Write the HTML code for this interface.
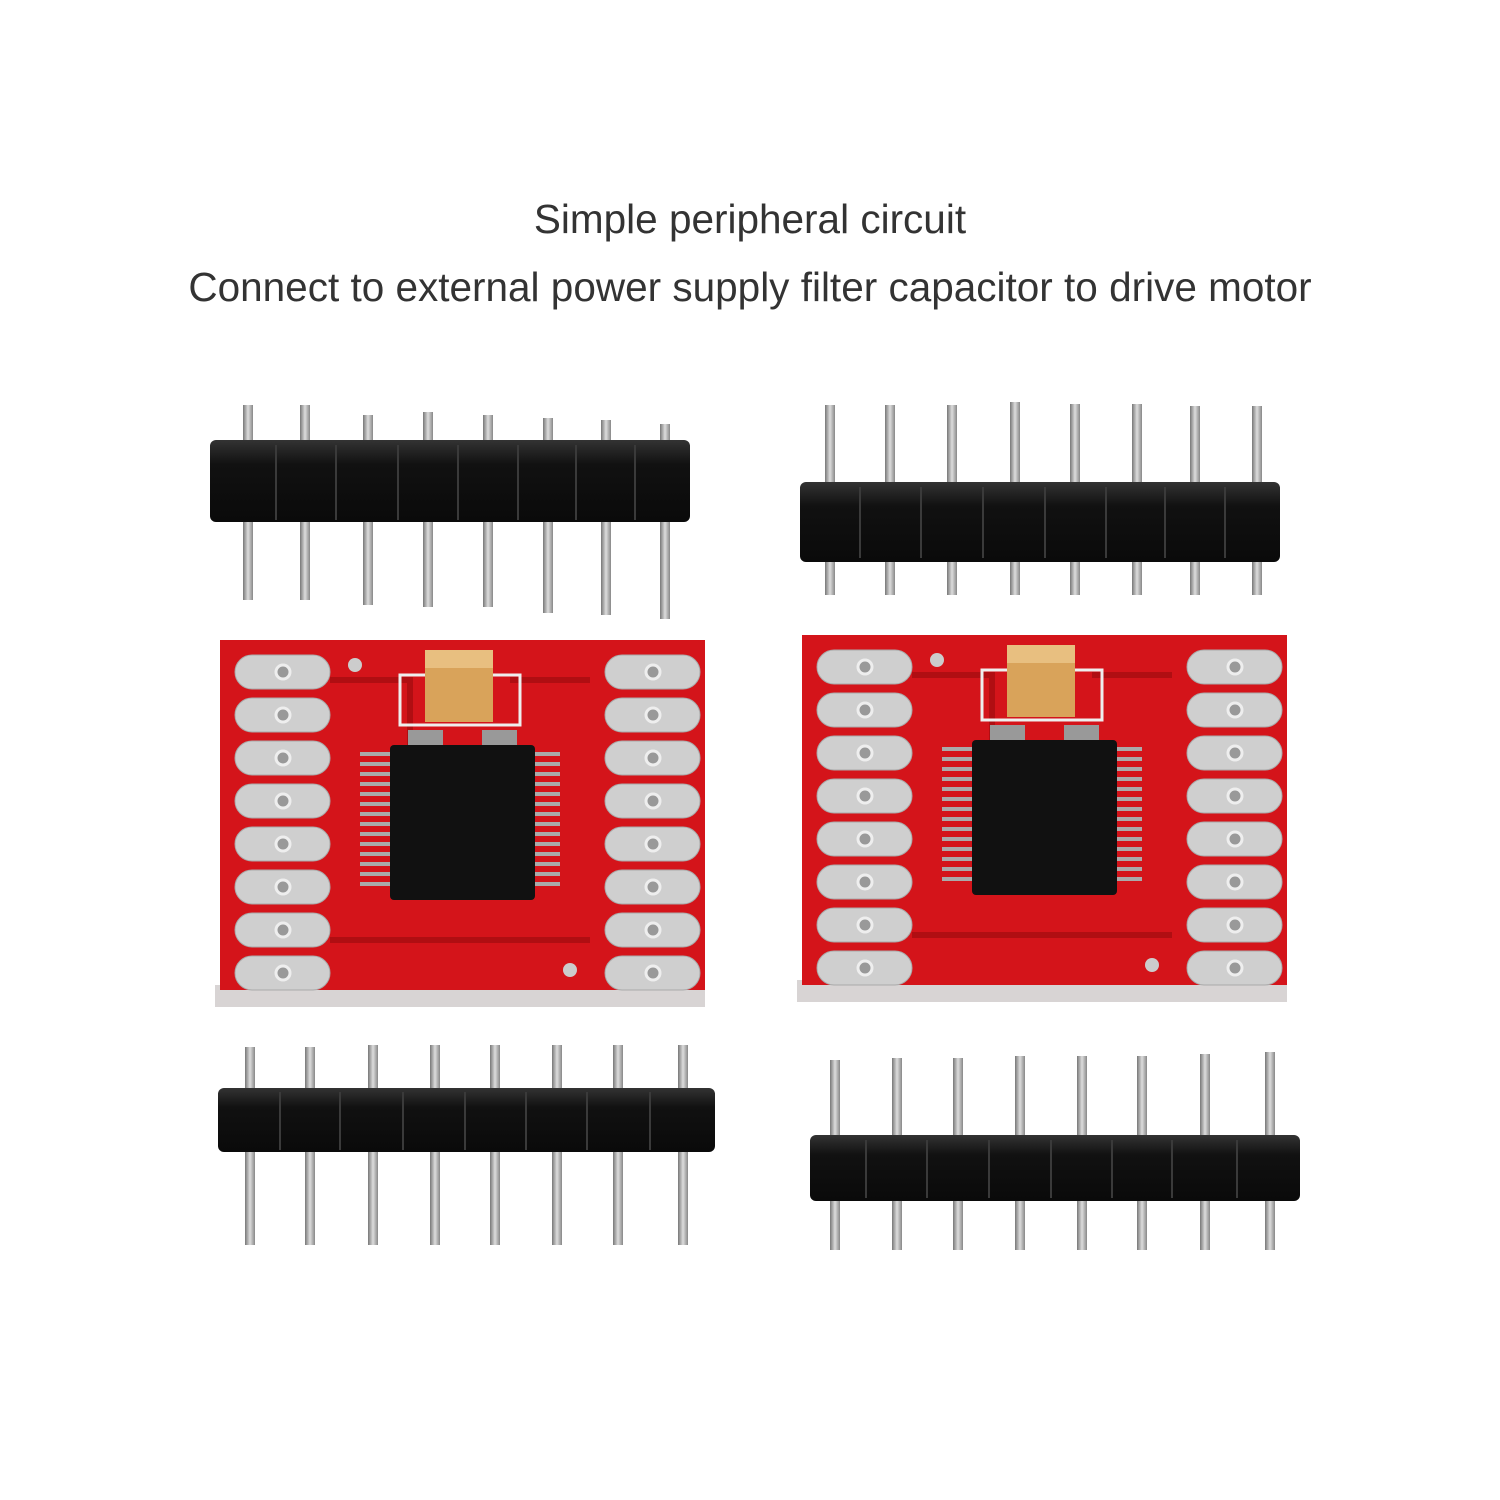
<!DOCTYPE html>
<html><head><meta charset="utf-8"><style>
html,body{margin:0;padding:0;background:#fff;}
body{width:1500px;height:1500px;position:relative;overflow:hidden;font-family:"Liberation Sans",sans-serif;}
.t{position:absolute;left:0;width:1500px;text-align:center;color:#333;font-size:40.5px;}
svg{position:absolute;left:0;top:0;}
</style></head><body>
<div class="t" style="top:196px;">Simple peripheral circuit</div>
<div class="t" style="top:264px;">Connect to external power supply filter capacitor to drive motor</div>
<svg width="1500" height="1500" viewBox="0 0 1500 1500">
<defs>
<linearGradient id="pin" x1="0" x2="1"><stop offset="0" stop-color="#777"/><stop offset="0.5" stop-color="#ddd"/><stop offset="1" stop-color="#888"/></linearGradient>
<linearGradient id="blk" x1="0" y1="0" x2="0" y2="1"><stop offset="0" stop-color="#333"/><stop offset="0.3" stop-color="#111"/><stop offset="1" stop-color="#0a0a0a"/></linearGradient>
<g id="pads">
  <g fill="#cfcfcf" stroke="#aaa" stroke-width="1">
  <rect x="0" y="0" width="95" height="34" rx="17"/><rect x="0" y="43" width="95" height="34" rx="17"/>
  <rect x="0" y="86" width="95" height="34" rx="17"/><rect x="0" y="129" width="95" height="34" rx="17"/>
  <rect x="0" y="172" width="95" height="34" rx="17"/><rect x="0" y="215" width="95" height="34" rx="17"/>
  <rect x="0" y="258" width="95" height="34" rx="17"/><rect x="0" y="301" width="95" height="34" rx="17"/>
  </g>
  <g fill="#999" stroke="#eee" stroke-width="3">
  <circle cx="48" cy="17" r="7"/><circle cx="48" cy="60" r="7"/><circle cx="48" cy="103" r="7"/><circle cx="48" cy="146" r="7"/>
  <circle cx="48" cy="189" r="7"/><circle cx="48" cy="232" r="7"/><circle cx="48" cy="275" r="7"/><circle cx="48" cy="318" r="7"/>
  </g>
</g>
<g id="board">
  <rect x="-5" y="345" width="490" height="22" fill="#d8d4d4"/>
  <rect x="0" y="0" width="485" height="350" fill="#d4141a"/>
  <path d="M110 40 L190 40 L190 110 M290 40 L370 40 M110 300 L370 300" stroke="#b00e12" stroke-width="6" fill="none"/>
  <use href="#pads" x="15" y="15"/>
  <use href="#pads" x="385" y="15"/>
  <circle cx="135" cy="25" r="7" fill="#ccc"/><circle cx="350" cy="330" r="7" fill="#ccc"/>
  <rect x="180" y="35" width="120" height="50" fill="none" stroke="#eee" stroke-width="3"/>
  <rect x="205" y="10" width="68" height="72" fill="#d9a35a"/>
  <rect x="205" y="10" width="68" height="18" fill="#e8bf80"/>
  <rect x="188" y="90" width="35" height="16" fill="#999"/><rect x="262" y="90" width="35" height="16" fill="#999"/>
  <g fill="#aaa">
   <rect x="140" y="112" width="200" height="4"/><rect x="140" y="122" width="200" height="4"/><rect x="140" y="132" width="200" height="4"/><rect x="140" y="142" width="200" height="4"/>
   <rect x="140" y="152" width="200" height="4"/><rect x="140" y="162" width="200" height="4"/><rect x="140" y="172" width="200" height="4"/><rect x="140" y="182" width="200" height="4"/>
   <rect x="140" y="192" width="200" height="4"/><rect x="140" y="202" width="200" height="4"/><rect x="140" y="212" width="200" height="4"/><rect x="140" y="222" width="200" height="4"/>
   <rect x="140" y="232" width="200" height="4"/><rect x="140" y="242" width="200" height="4"/>
  </g>
  <rect x="170" y="105" width="145" height="155" rx="4" fill="#111"/>
</g>
</defs>
<g>
 <g fill="url(#pin)">
  <rect x="243" y="405" width="10" height="195"/><rect x="300" y="405" width="10" height="195"/><rect x="363" y="415" width="10" height="190"/><rect x="423" y="412" width="10" height="195"/>
  <rect x="483" y="415" width="10" height="192"/><rect x="543" y="418" width="10" height="195"/><rect x="601" y="420" width="10" height="195"/><rect x="660" y="424" width="10" height="195"/>
 </g>
 <rect x="210" y="440" width="480" height="82" rx="6" fill="url(#blk)"/>
 <g stroke="#3a3a3a" stroke-width="2"><path d="M276 445V520M336 445V520M398 445V520M458 445V520M518 445V520M576 445V520M635 445V520"/></g>
</g>
<g>
 <g fill="url(#pin)">
  <rect x="825" y="405" width="10" height="190"/><rect x="885" y="405" width="10" height="190"/><rect x="947" y="405" width="10" height="190"/><rect x="1010" y="402" width="10" height="193"/>
  <rect x="1070" y="404" width="10" height="191"/><rect x="1132" y="404" width="10" height="191"/><rect x="1190" y="406" width="10" height="189"/><rect x="1252" y="406" width="10" height="189"/>
 </g>
 <rect x="800" y="482" width="480" height="80" rx="6" fill="url(#blk)"/>
 <g stroke="#3a3a3a" stroke-width="2"><path d="M860 487V558M921 487V558M983 487V558M1045 487V558M1106 487V558M1165 487V558M1225 487V558"/></g>
</g>
<g>
 <g fill="url(#pin)">
  <rect x="245" y="1047" width="10" height="198"/><rect x="305" y="1047" width="10" height="198"/><rect x="368" y="1045" width="10" height="200"/><rect x="430" y="1045" width="10" height="200"/>
  <rect x="490" y="1045" width="10" height="200"/><rect x="552" y="1045" width="10" height="200"/><rect x="613" y="1045" width="10" height="200"/><rect x="678" y="1045" width="10" height="200"/>
 </g>
 <rect x="218" y="1088" width="497" height="64" rx="6" fill="url(#blk)"/>
 <g stroke="#3a3a3a" stroke-width="2"><path d="M280 1092V1150M340 1092V1150M403 1092V1150M465 1092V1150M526 1092V1150M587 1092V1150M650 1092V1150"/></g>
</g>
<g>
 <g fill="url(#pin)">
  <rect x="830" y="1060" width="10" height="190"/><rect x="892" y="1058" width="10" height="192"/><rect x="953" y="1058" width="10" height="192"/><rect x="1015" y="1056" width="10" height="194"/>
  <rect x="1077" y="1056" width="10" height="194"/><rect x="1137" y="1056" width="10" height="194"/><rect x="1200" y="1054" width="10" height="196"/><rect x="1265" y="1052" width="10" height="198"/>
 </g>
 <rect x="810" y="1135" width="490" height="66" rx="6" fill="url(#blk)"/>
 <g stroke="#3a3a3a" stroke-width="2"><path d="M866 1140V1198M927 1140V1198M989 1140V1198M1051 1140V1198M1112 1140V1198M1172 1140V1198M1237 1140V1198"/></g>
</g>
<use href="#board" x="220" y="640"/>
<use href="#board" x="802" y="635"/>
</svg>
</body></html>
